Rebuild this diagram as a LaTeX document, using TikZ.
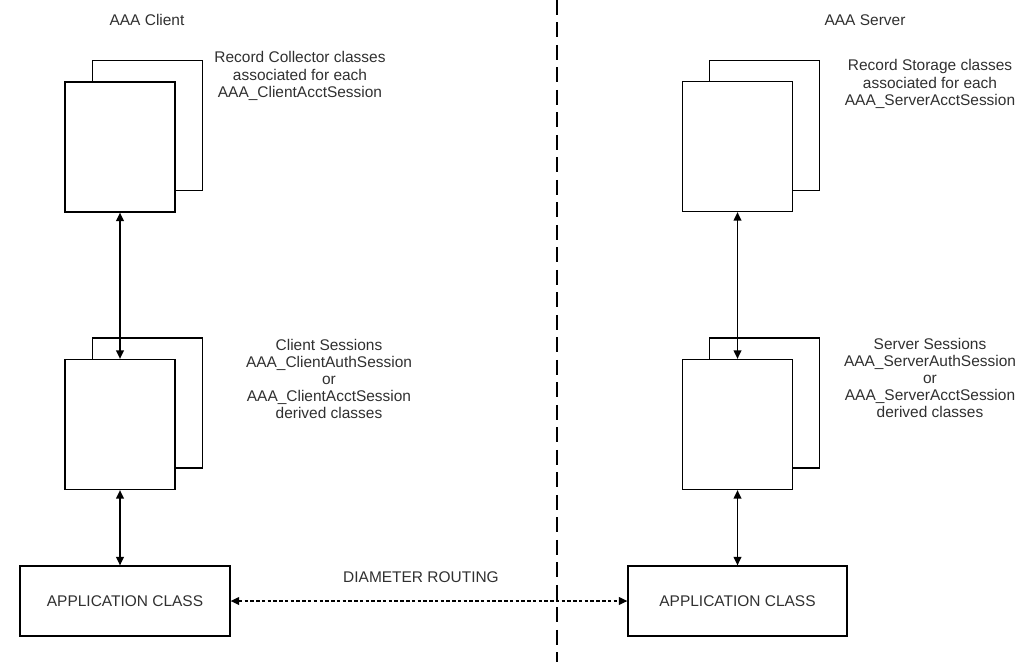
\documentclass[tikz,border=0pt]{standalone}
\usepackage{fontspec}
\setmainfont{Liberation Sans}
\usetikzlibrary{positioning,arrows.meta}
\definecolor{txtgray}{HTML}{303030}

\begin{document}
\begin{tikzpicture}[
    x=0.025cm, y=-0.025cm,
    every node/.style={font=\fontsize{11}{12.2}\selectfont, text=txtgray},
    classbox/.style={
        draw,
        fill=white,
        line width=0.9pt,
        minimum width=2.75cm,
        minimum height=3.25cm,
        inner sep=0pt,
    },
    appbox/.style={
        draw,
        fill=white,
        line width=0.9pt,
        minimum height=1.75cm,
        align=center,
    },
    note/.style={align=center, inner sep=0pt},
    dblarr/.style={{Triangle[length=6pt,width=5.5pt]}-{Triangle[length=6pt,width=5.5pt]},line width=0.9pt},
    routearr/.style={{Triangle[length=6pt,width=5.5pt]}-{Triangle[length=6pt,width=5.5pt]},line width=0.9pt,dash pattern=on 2.5pt off 1.6pt},
    divider/.style={line width=1.5pt,dash pattern=on 10.5pt off 5.5pt},
]
\useasboundingbox (0,0) rectangle (1016,662);

% === Titles ===
\node (clienttitle) at (147,20) {AAA Client};
\node (servertitle) at (865,20) {AAA Server};

% === Divider ===
\coordinate (divtop) at (557,0);
\coordinate (divbot) at (557,662);
\draw[divider] (divtop) -- (divbot);

% === Client side ===
\node[classbox] (collectorback) at (147.5,125.5) {};
\node[classbox] (collector) at (120,147) {};
\node[note] (collectornote) at (300,76) {Record Collector classes\\associated for each\\AAA\_ClientAcctSession};

\node[classbox] (clisessback) at (147.5,403) {};
\node[classbox] (clisess) at (120,424.5) {};
\node[note] (clisessnote) at (329,379) {Client Sessions\\AAA\_ClientAuthSession\\or\\AAA\_ClientAcctSession\\derived classes};

\node[appbox,minimum width=5.25cm] (cliapp) at (125,601) {APPLICATION CLASS};

% === Server side ===
\node[classbox] (storageback) at (764.5,125.5) {};
\node[classbox] (storage) at (737.5,146.5) {};
\node[note] (storagenote) at (930,84) {Record Storage classes\\associated for each\\AAA\_ServerAcctSession};

\node[classbox] (srvsessback) at (764.5,403) {};
\node[classbox] (srvsess) at (737.5,424.5) {};
\node[note] (srvsessnote) at (930,378) {Server Sessions\\AAA\_ServerAuthSession\\or\\AAA\_ServerAcctSession\\derived classes};

\node[appbox,minimum width=5.475cm] (srvapp) at (737.5,601) {APPLICATION CLASS};

% === Arrows ===
\draw[dblarr] (collector.south) -- (clisess.north);
\draw[dblarr] (clisess.south) -- (clisess.south |- cliapp.north);
\draw[dblarr] (storage.south) -- (srvsess.north);
\draw[dblarr] (srvsess.south) -- (srvsess.south |- srvapp.north);

\draw[routearr] (cliapp.east) -- (srvapp.west);
\node (routing) at (421,577) {DIAMETER ROUTING};

\end{tikzpicture}
\end{document}
